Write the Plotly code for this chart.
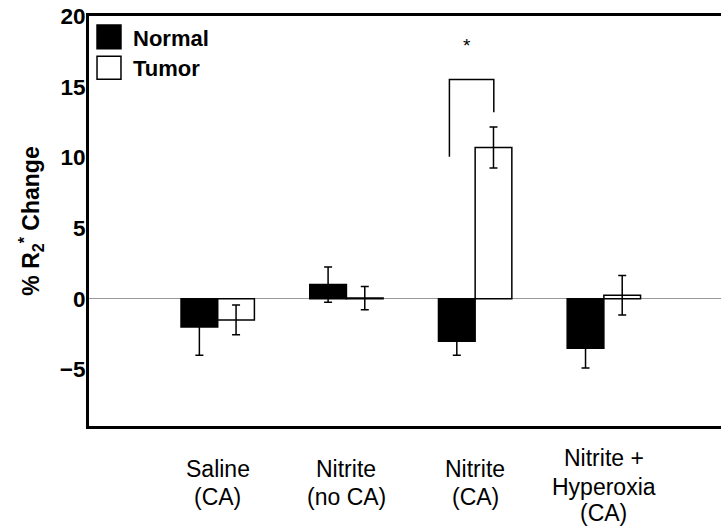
import plotly.graph_objects as go

categories = ["Saline<br>(CA)", "Nitrite<br>(no CA)", "Nitrite<br>(CA)", "Nitrite +<br>Hyperoxia<br>(CA)"]
normal_vals = [-2.0, 1.0, -3.0, -3.5]
normal_err = [2.0, 1.25, 1.0, 1.4]
tumor_vals = [-1.5, 0.05, 10.7, 0.25]
tumor_err = [1.05, 0.82, 1.45, 1.4]
y_ticks = [-5, 0, 5, 10, 15, 20]
series_names = ["Normal", "Tumor"]
series_fill = ["black", "white"]

FONT = "Liberation Sans, Arial, Helvetica, sans-serif"
xpos = list(range(len(categories)))

fig = go.Figure()
for name, vals, errs, fill in zip(series_names, [normal_vals, tumor_vals], [normal_err, tumor_err], series_fill):
    fig.add_trace(go.Bar(
        name=name, x=xpos, y=vals, showlegend=False,
        marker=dict(color=fill, line=dict(color="black", width=1.5)),
        error_y=dict(type="data", array=errs, color="black", thickness=1.5, width=4),
    ))

# legend drawn as large squares + bold labels (as in the reference)
leg_rows = [(0.978, 0.920, 0.946), (0.902, 0.846, 0.873)]
for (y1, y0, yt), name, fill in zip(leg_rows, series_names, series_fill):
    fig.add_shape(type="rect", xref="paper", yref="paper", x0=0.0127, x1=0.0506, y0=y0, y1=y1,
                  fillcolor=fill, line=dict(color="black", width=1.5))
    fig.add_annotation(x=0.066, y=yt, xref="paper", yref="paper", text=f"<b>{name}</b>",
                       showarrow=False, xanchor="left", yanchor="middle",
                       font=dict(family=FONT, size=22, color="black"))

# significance bracket between Normal and Tumor of "Nitrite (CA)"
br_x0, br_x1 = 1.80, 2.145
br_y_left, br_y_top, br_y_right = 10.05, 15.5, 13.2
star_x, star_y = 1.935, 17.9
fig.add_shape(type="path", xref="x", yref="y",
              path=f"M {br_x0},{br_y_left} L {br_x0},{br_y_top} L {br_x1},{br_y_top} L {br_x1},{br_y_right}",
              line=dict(color="black", width=1.5))
fig.add_annotation(x=star_x, y=star_y, xref="x", yref="y", text="*",
                   showarrow=False, font=dict(family=FONT, size=19, color="black"))

# category labels under each group, one annotation per line (paper y below the axis)
line_y = {2: [-0.1040, -0.1740], 3: [-0.0780, -0.1500, -0.2134]}
for i, lab in enumerate(categories):
    parts = lab.split("<br>")
    for part, yy in zip(parts, line_y[len(parts)]):
        fig.add_annotation(x=i, y=yy, xref="x", yref="paper", text=part, showarrow=False,
                           yanchor="middle", font=dict(family=FONT, size=23, color="black"))

fig.update_layout(
    width=721, height=527,
    margin=dict(l=89, r=0, t=16, b=101),
    plot_bgcolor="white", paper_bgcolor="white",
    barmode="group", bargap=0.43, bargroupgap=0,
    font=dict(family=FONT, color="black"),
    showlegend=False,
    xaxis=dict(range=[-1, 3.91], showticklabels=False, showgrid=False, zeroline=False,
               showline=True, linecolor="black", linewidth=3, mirror=True, ticks=""),
    yaxis=dict(range=[-9, 20], tickvals=y_ticks, ticktext=[str(v).replace("-", "\u2212") for v in y_ticks],
               showgrid=False, zeroline=True, zerolinecolor="#9a9a9a", zerolinewidth=1,
               showline=True, linecolor="black", linewidth=3, mirror=False, ticks="",
               ticklabelstandoff=-4,
               tickfont=dict(family=FONT, size=22.5, color="black", weight="bold"),
               title=dict(text="% R<sub>2</sub><sup>*</sup> Change", standoff=14,
                          font=dict(family=FONT, size=23, color="black", weight="bold"))),
)

# remove the default 8px page margin so the figure fills the 721x527 window exactly
fig.write_html("out.html", config={"displayModeBar": False},
               post_script="document.body.style.margin='0';document.body.style.overflow='hidden';")
